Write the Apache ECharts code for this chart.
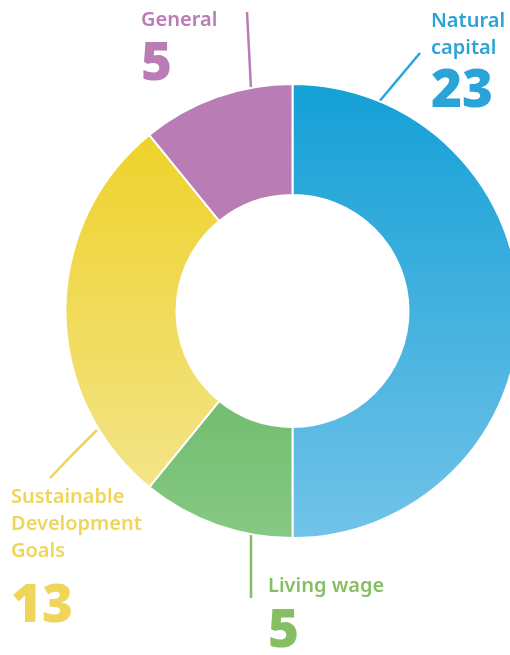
<!DOCTYPE html>
<html>
<head>
<meta charset="utf-8">
<script src="https://cdn.jsdelivr.net/npm/echarts@6/dist/echarts.min.js"></script>
<style>
  html, body { margin: 0; padding: 0; background: #ffffff; }
  #chart { width: 510px; height: 655px; }
</style>
</head>
<body>
<div id="chart"></div>
<script>
// ---- data ----
const categories = ['Natural capital', 'Living wage', 'Sustainable Development Goals', 'General'];
const nameLines  = [['Natural', 'capital'], ['Living wage'], ['Sustainable', 'Development', 'Goals'], ['General']];
const values     = [23, 5, 13, 5];

// ---- styles ----
const sliceTop    = ['#14a0d6', '#72bd6e', '#eed22a', '#b97cb4'];
const sliceBottom = ['#72c3e8', '#86c985', '#f3e488', '#b97cb4'];
const textColors  = ['#2aa4d8', '#86bf63', '#efd65a', '#b97cb4'];
// label placement (top-left of text block) and leader-line points
const labelPos  = [[431, 7.5], [268, 572.5], [11, 484], [141, 7]];
const valueGap  = [60, 64, 83, 61];
const leaderPts = [
  [[378, 103], [399, 78], [420, 53]],
  [[251, 533], [251, 565], [251, 598]],
  [[97, 430], [73, 454], [50, 478]],
  [[251, 89], [249, 50], [247, 12]]
];

const FONT = '"Noto Sans", "Open Sans", sans-serif';

const rich = {};
categories.forEach((c, i) => {
  rich['n' + i] = { fontFamily: FONT, fontSize: 20, fontWeight: 600, lineHeight: 27, color: textColors[i] };
  rich['v' + i] = { fontFamily: FONT, fontSize: 53, fontWeight: 900, lineHeight: valueGap[i], color: textColors[i] };
});

const data = categories.map((c, i) => ({
  name: c,
  value: values[i],
  itemStyle: {
    color: {
      type: 'linear', x: 0, y: 0, x2: 0, y2: 1,
      colorStops: [{ offset: 0, color: sliceTop[i] }, { offset: 1, color: sliceBottom[i] }]
    }
  },
  labelLine: { lineStyle: { color: textColors[i], width: 2.5 } }
}));

const chart = echarts.init(document.getElementById('chart'), null, { renderer: 'canvas' });
chart.setOption({
  animation: false,
  backgroundColor: '#ffffff',
  series: [{
    type: 'pie',
    center: [292.5, 311],
    radius: [116, 227],
    startAngle: 90,
    clockwise: true,
    silent: true,
    avoidLabelOverlap: false,
    itemStyle: { borderColor: '#ffffff', borderWidth: 2 },
    label: {
      show: true,
      position: 'outside',
      overflow: 'none',
      edgeDistance: 0,
      formatter: (p) => {
        const i = p.dataIndex;
        const names = nameLines[i].map(s => '{n' + i + '|' + s + '}').join('\n');
        return names + '\n{v' + i + '|' + p.value + '}';
      },
      rich: rich,
      align: 'left'
    },
    labelLine: { show: true, length: 10, length2: 10, smooth: false },
    labelLayout: (params) => {
      const i = params.dataIndex;
      return {
        x: labelPos[i][0],
        y: labelPos[i][1],
        align: 'left',
        verticalAlign: 'top',
        hideOverlap: false,
        labelLinePoints: leaderPts[i]
      };
    },
    data: data
  }]
});
</script>
</body>
</html>
